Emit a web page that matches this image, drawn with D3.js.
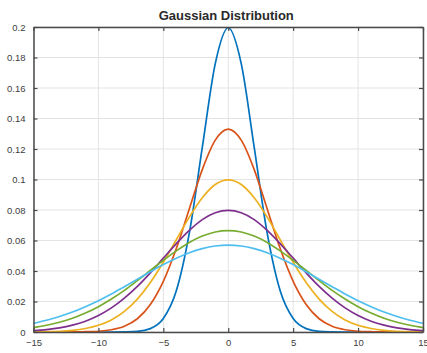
<!DOCTYPE html>
<html>
<head>
<meta charset="utf-8">
<script src="https://cdn.jsdelivr.net/npm/d3@7"></script>
<style>
  body { margin: 0; background: #fff; }
  text { font-family: "Liberation Sans", Arial, sans-serif; }
</style>
</head>
<body>
<div id="chart"></div>
<script>
// gaussian curves, values at integer x

const svgWidth = 427
const svgHeight = 353

const xVals = [-15,-14,-13,-12,-11,-10,-9,-8,-7,-6,-5,-4,-3,-2,-1,0,1,2,3,4,5,6,7,8,9,10,11,12,13,14,15]

const sigma2 = [0,0,0,0,0,0,0,0.0001,0.0004,0.0022,0.0088,0.0270,0.0648,0.1210,0.1760,0.1995,
  0.1760,0.1210,0.0648,0.0270,0.0088,0.0022,0.0004,0.0001,0,0,0,0,0,0,0]
const sigma3 = [0,0,0,0.00004,0.0002,0.0005,0.0015,0.0038,0.0087,0.0180,0.0332,0.0547,0.0807,0.1065,0.1258,0.1330,
  0.1258,0.1065,0.0807,0.0547,0.0332,0.0180,0.0087,0.0038,0.0015,0.0005,0.0002,0.00004,0,0,0]
const sigma4 = [0.0001,0.0002,0.0005,0.0011,0.0023,0.0044,0.0079,0.0135,0.0216,0.0324,0.0457,0.0605,0.0753,0.0880,0.0967,0.0997,
  0.0967,0.0880,0.0753,0.0605,0.0457,0.0324,0.0216,0.0135,0.0079,0.0044,0.0023,0.0011,0.0005,0.0002,0.0001]
const sigma5 = [0.0009,0.0016,0.0027,0.0045,0.0071,0.0108,0.0158,0.0222,0.0299,0.0388,0.0484,0.0579,0.0666,0.0737,0.0782,0.0798,
  0.0782,0.0737,0.0666,0.0579,0.0484,0.0388,0.0299,0.0222,0.0158,0.0108,0.0071,0.0045,0.0027,0.0016,0.0009]
const sigma6 = [0.0029,0.0044,0.0064,0.0090,0.0124,0.0166,0.0216,0.0273,0.0337,0.0403,0.0470,0.0532,0.0587,0.0629,0.0656,0.0665,
  0.0656,0.0629,0.0587,0.0532,0.0470,0.0403,0.0337,0.0273,0.0216,0.0166,0.0124,0.0090,0.0064,0.0044,0.0029]
const sigma7 = [0.0057,0.0077,0.0102,0.0131,0.0166,0.0205,0.0249,0.0297,0.0346,0.0395,0.0442,0.0484,0.0520,0.0547,0.0564,0.0570,
  0.0564,0.0547,0.0520,0.0484,0.0442,0.0395,0.0346,0.0297,0.0249,0.0205,0.0166,0.0131,0.0102,0.0077,0.0057]

const seriesList = [sigma2, sigma3, sigma4, sigma5, sigma6, sigma7]
const colors = ["#0072BD","#D95319","#EDB120","#7E2F8E","#77AC30","#4DBEEE"]

const xTicks = [-15,-10,-5,0,5,10,15]
const yTicks = [0,0.02,0.04,0.06,0.08,0.1,0.12,0.14,0.16,0.18,0.2]
const title = "Gaussian Distribution"

const plotLeft = 33.5, plotRight = 423, plotTop = 27, plotBottom = 332

const svg = d3.select("#chart").append("svg")
    .attr("width", svgWidth)
    .attr("height", svgHeight)

const x = d3.scaleLinear().domain([-15, 15]).range([plotLeft, plotRight])
const y = d3.scaleLinear().domain([0, 0.2]).range([plotBottom, plotTop])

// grid
svg.append("g").selectAll("line").data(xTicks).join("line")
    .attr("x1", d => x(d)).attr("x2", d => x(d))
    .attr("y1", plotTop).attr("y2", plotBottom)
    .style("stroke", "#e3e3e3").style("stroke-width", 1)
svg.append("g").selectAll("line").data(yTicks).join("line")
    .attr("x1", plotLeft).attr("x2", plotRight)
    .attr("y1", d => y(d)).attr("y2", d => y(d))
    .style("stroke", "#e3e3e3").style("stroke-width", 1)

// curves
const line = d3.line()
    .x((d, i) => x(xVals[i]))
    .y(d => y(d))
    .curve(d3.curveMonotoneX)

svg.append("g").selectAll("path").data(seriesList).join("path")
    .attr("d", d => line(d))
    .style("fill", "none")
    .style("stroke", (d, i) => colors[i])
    .style("stroke-width", 1.7)

// axes, ticks inward on all sides like matlab
const axisColor = "#4a4a4a"
const tickLen = 4

svg.append("g").attr("transform", `translate(0,${plotBottom})`)
    .call(d3.axisBottom(x).tickValues(xTicks).tickSizeInner(-tickLen).tickSizeOuter(0).tickPadding(7))
svg.append("g").attr("transform", `translate(0,${plotTop})`)
    .call(d3.axisTop(x).tickValues(xTicks).tickSizeInner(-tickLen).tickSizeOuter(0).tickFormat(""))
svg.append("g").attr("transform", `translate(${plotLeft},0)`)
    .call(d3.axisLeft(y).tickValues(yTicks).tickSizeInner(-tickLen).tickSizeOuter(0).tickPadding(8)
        .tickFormat(d => d3.format("~g")(d)))
svg.append("g").attr("transform", `translate(${plotRight},0)`)
    .call(d3.axisRight(y).tickValues(yTicks).tickSizeInner(-tickLen).tickSizeOuter(0).tickFormat(""))

svg.selectAll(".domain").style("stroke", axisColor).style("stroke-width", 1.5)
svg.selectAll(".tick line").style("stroke", axisColor).style("stroke-width", 1.2)
svg.selectAll(".tick text")
    .style("font-size", "9.5px")
    .style("fill", "#404040")

svg.append("text")
    .attr("x", (plotLeft + plotRight) / 2 - 2)
    .attr("y", 20)
    .attr("text-anchor", "middle")
    .style("font-size", "13px")
    .style("font-weight", "bold")
    .style("fill", "#2a2a2a")
    .text(title)
</script>
</body>
</html>
